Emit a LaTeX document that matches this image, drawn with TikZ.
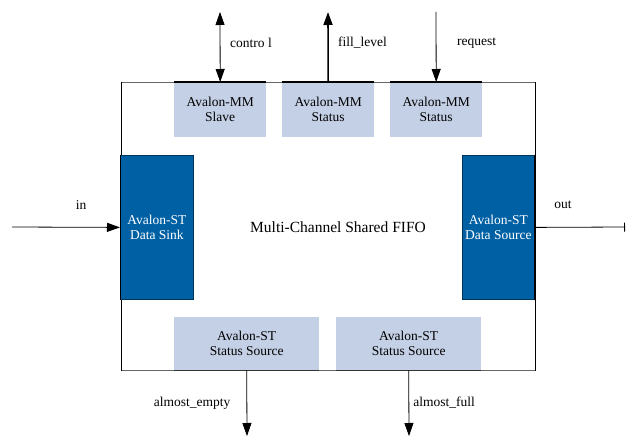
\documentclass[tikz,border=0pt]{standalone}
\usepackage{fontspec}
\setmainfont{Liberation Serif}
\usetikzlibrary{arrows.meta}
\definecolor{mmblue}{RGB}{196,208,230}
\definecolor{stblue}{RGB}{0,96,164}
\tikzset{
  mmbox/.style={fill=mmblue,inner sep=0pt,align=center,anchor=north west},
  stbox/.style={fill=stblue,draw=stblue!55!black,line width=.8pt,text=white,inner sep=0pt,align=center,anchor=north west},
  sig/.style={line width=.8pt,-{Triangle[length=13pt,width=9pt]}},
  lbl/.style={inner sep=0pt,anchor=west},
}
\begin{document}
\begin{tikzpicture}[x=1pt,y=-1pt,font=\fontsize{13.5}{15}\selectfont]
\useasboundingbox (0,0) rectangle (626,436);
\node[draw=black!60,line width=.8pt,minimum width=414pt,minimum height=288pt,anchor=north west] (fifo) at (121,82) {};
\draw[line width=.8pt] (fifo.north west) -- (fifo.south west);
\draw[line width=.8pt] (fifo.north east) -- (fifo.south east);
\node[font=\fontsize{15.5}{17}\selectfont] (title) at (338,227) {Multi-Channel Shared FIFO};
\node[mmbox,minimum width=92pt,minimum height=55pt] (slave) at (174,82) {Avalon-MM\\Slave};
\node[mmbox,minimum width=92pt,minimum height=55pt] (fill) at (282,82) {Avalon-MM\\Status};
\node[mmbox,minimum width=92pt,minimum height=55pt] (req) at (390,82) {Avalon-MM\\Status};
\node[mmbox,minimum width=145pt,minimum height=53pt] (empty) at (174,317) {Avalon-ST\\Status Source};
\node[mmbox,minimum width=145pt,minimum height=53pt] (full) at (336,317) {Avalon-ST\\Status Source};
\node[stbox,minimum width=73pt,minimum height=144pt] (sink) at (120,155) {Avalon-ST\\Data Sink};
\node[stbox,minimum width=72pt,minimum height=144pt] (source) at (462,155) {Avalon-ST\\Data Source};
\foreach \b in {slave,fill,req}
  \draw[line width=1.6pt] (\b.north west) -- (\b.north east);
\foreach \b in {empty,full}
  \draw[line width=1.4pt,black!80] (\b.south west) -- (\b.south east);
\draw[line width=.8pt] (sink.north west) -- (sink.south west);
\draw[line width=.8pt] (source.north east) -- (source.south east);
\coordinate (ctrltop) at (220,12);
\coordinate (filltop) at (328,12);
\coordinate (reqtop) at (436,12);
\coordinate (intail) at (12,227);
\coordinate (outend) at (625,227);
\coordinate (emptyend) at (247,436);
\coordinate (fullend) at (409,436);
\draw[sig,{Triangle[length=13pt,width=9pt]}-{Triangle[length=13pt,width=9pt]}] (ctrltop) -- (slave.north);
\draw[sig,line width=1.6pt] (fill.north) -- (filltop);
\draw[sig] (reqtop) -- (req.north);
\draw[sig] (intail) -- (sink.west);
\draw[line width=.8pt,-{Bar[width=9pt]}] (source.east) -- (outend);
\draw[sig] (empty.south) -- (emptyend);
\draw[sig] (full.south) -- (fullend);
\node[lbl] (ctrllbl) at (230,43) {contro l};
\node[lbl] (filllbl) at (338,43) {fill\_level};
\node[lbl] (reqlbl) at (457,43) {request};
\node (inlbl) at (81,205) {in};
\node (outlbl) at (563,205) {out};
\node (emptylbl) at (192,403) {almost\_empty};
\node (fulllbl) at (444,403) {almost\_full};
\end{tikzpicture}
\end{document}
